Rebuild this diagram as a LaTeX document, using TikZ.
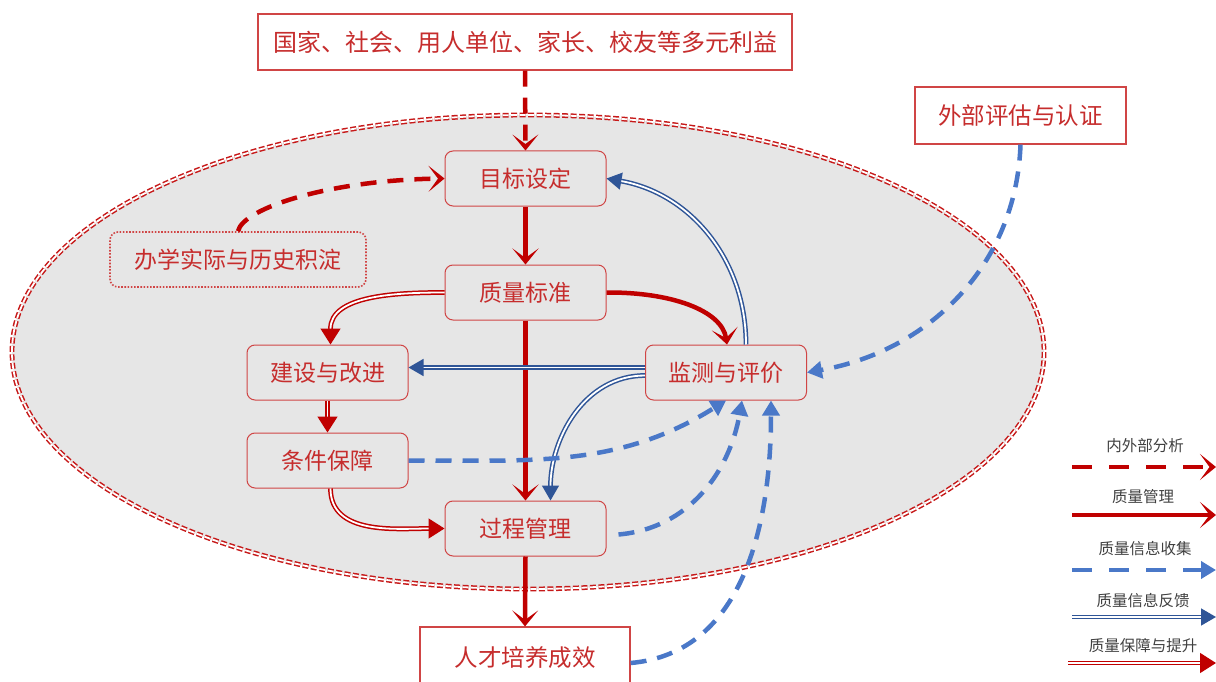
\documentclass[tikz,border=0pt]{standalone}
\usepackage{fontspec}
\setmainfont{Noto Sans CJK SC}
\usetikzlibrary{arrows.meta,calc}
\definecolor{rline}{HTML}{C00000}
\definecolor{rtext}{HTML}{C62D2D}
\definecolor{rborder}{HTML}{D04545}
\definecolor{bdash}{HTML}{4A78C8}
\definecolor{bdbl}{HTML}{2F5597}
\definecolor{ellfill}{HTML}{E6E6E6}
\definecolor{legtext}{HTML}{404040}
\tikzset{
  box/.style={draw=rborder, line width=1pt, rounded corners=8pt, fill=ellfill, text=rtext,
    minimum width=161pt, minimum height=55pt, inner sep=0pt, font=\fontsize{23}{23}\selectfont},
  outbox/.style={draw=rborder, line width=1.2pt, fill=white, text=rtext, inner sep=0pt,
    font=\fontsize{23.5}{23.5}\selectfont},
  histbox/.style={draw=rborder, line width=1.6pt, dash pattern=on 1.6pt off 1.6pt, rounded corners=8pt,
    fill=ellfill, text=rtext, inner sep=0pt, minimum width=256pt, minimum height=55pt,
    font=\fontsize{23}{23}\selectfont},
  chev/.tip={Stealth[length=16pt,width=26pt,inset=9.5pt]},
  redsolid/.style={draw=rline, line width=4.5pt, -chev},
  reddash/.style={draw=rline, line width=4.5pt, dash pattern=on 16pt off 11pt, -chev},
  bluedash/.style={draw=bdash, line width=4.5pt, dash pattern=on 16pt off 11pt,
    -{Triangle[length=15pt,width=17pt]}},
  bluedbl/.style={draw=bdbl, double=white, double distance=1.8pt, line width=1.5pt,
    -{Triangle[length=15pt,width=17pt]}},
  reddbl/.style={draw=rline, double=white, double distance=1.8pt, line width=1.5pt,
    -{Triangle[length=16pt,width=20pt]}},
  legtxt/.style={text=legtext, font=\fontsize{15.5}{15.5}\selectfont, inner sep=0pt},
}
\begin{document}
\begin{tikzpicture}[x=1pt,y=-1pt]
\useasboundingbox (0,0) rectangle (1216,682);
% ellipse
\fill[ellfill] (528,352) ellipse [x radius=516, y radius=237];
\draw[draw=rline!90, double=white, double distance=1.8pt, line width=1.5pt, dash pattern=on 6pt off 2.5pt]
  (528,352) ellipse [x radius=516, y radius=237];

% nodes
\node[outbox, minimum width=534pt, minimum height=56pt, font=\fontsize{24}{24}\selectfont] (top) at (525,42) {国家、社会、用人单位、家长、校友等多元利益};
\node[outbox, minimum width=211pt, minimum height=57pt] (ext) at (1020.5,115.5) {外部评估与认证};
\node[box] (goal) at (525.5,178.5) {目标设定};
\node[histbox] (hist) at (238,259.5) {办学实际与历史积淀};
\node[box] (std) at (525.5,292.5) {质量标准};
\node[box] (build) at (327.5,372.5) {建设与改进};
\node[box] (mon) at (726,372.5) {监测与评价};
\node[box] (cond) at (327.5,460.5) {条件保障};
\node[box] (proc) at (525.5,528.5) {过程管理};
\node[outbox, minimum width=210pt, minimum height=62pt] (tal) at (525,658) {人才培养成效};

% red management arrows
\draw[reddash] (top.south) -- (goal.north);
\draw[reddash] (hist.north) .. controls (243,208) and (330,180) .. (goal.west);
\draw[redsolid] (goal.south) -- (std.north);
\draw[redsolid] (std.south) -- (proc.north);
\draw[redsolid] (proc.south) -- (tal.north);
\draw[redsolid] (std.east) .. controls (670,292) and (722,310) .. ([xshift=1pt]mon.north);

% red double
\draw[reddbl] (std.west) to[out=180,in=90] ([xshift=3pt]build.north);
\draw[reddbl] (build.south) -- (cond.north);
\draw[reddbl] ([xshift=3pt]cond.south) to[out=-90,in=180] (proc.west);

% blue double
\draw[bluedbl] ([xshift=20pt]mon.north) to[out=90,in=-10] (goal.east);
\draw[bluedbl] ([yshift=5pt]mon.west) -- ([yshift=5pt]build.east);
\draw[bluedbl] ([yshift=-3pt]mon.west) to[out=180,in=90] ([xshift=25pt]proc.north);

% blue dashed
\draw[bluedash] (cond.east) to[out=0,in=212] (mon.south);
\draw[bluedash] ([xshift=12pt,yshift=-6pt]proc.east) to[out=5,in=-100] ([xshift=16pt]mon.south);
\draw[bluedash] ([yshift=-5pt]tal.east) to[out=5,in=-90] ([xshift=45pt]mon.south);
\draw[bluedash] (ext.south) to[out=-92,in=10] (mon.east);

% legend
\node[legtxt] (l1) at (1145,446) {内外部分析};
\coordinate (l1a) at (1072,467); \coordinate (l1b) at (1216,467);
\draw[draw=rline, line width=4.5pt, dash pattern=on 20pt off 17pt, -chev] (l1a) -- (l1b);
\node[legtxt] (l2) at (1143,497) {质量管理};
\coordinate (l2a) at (1072,515); \coordinate (l2b) at (1216,515);
\draw[redsolid] (l2a) -- (l2b);
\node[legtxt] (l3) at (1145,549) {质量信息收集};
\coordinate (l3a) at (1072,570); \coordinate (l3b) at (1216,570);
\draw[bluedash, dash pattern=on 20pt off 17pt] (l3a) -- (l3b);
\node[legtxt] (l4) at (1143,601) {质量信息反馈};
\coordinate (l4a) at (1072,617); \coordinate (l4b) at (1216,617);
\draw[bluedbl] (l4a) -- (l4b);
\node[legtxt] (l5) at (1143,646) {质量保障与提升};
\coordinate (l5a) at (1068,663); \coordinate (l5b) at (1216,663);
\draw[reddbl] (l5a) -- (l5b);
\end{tikzpicture}
\end{document}
